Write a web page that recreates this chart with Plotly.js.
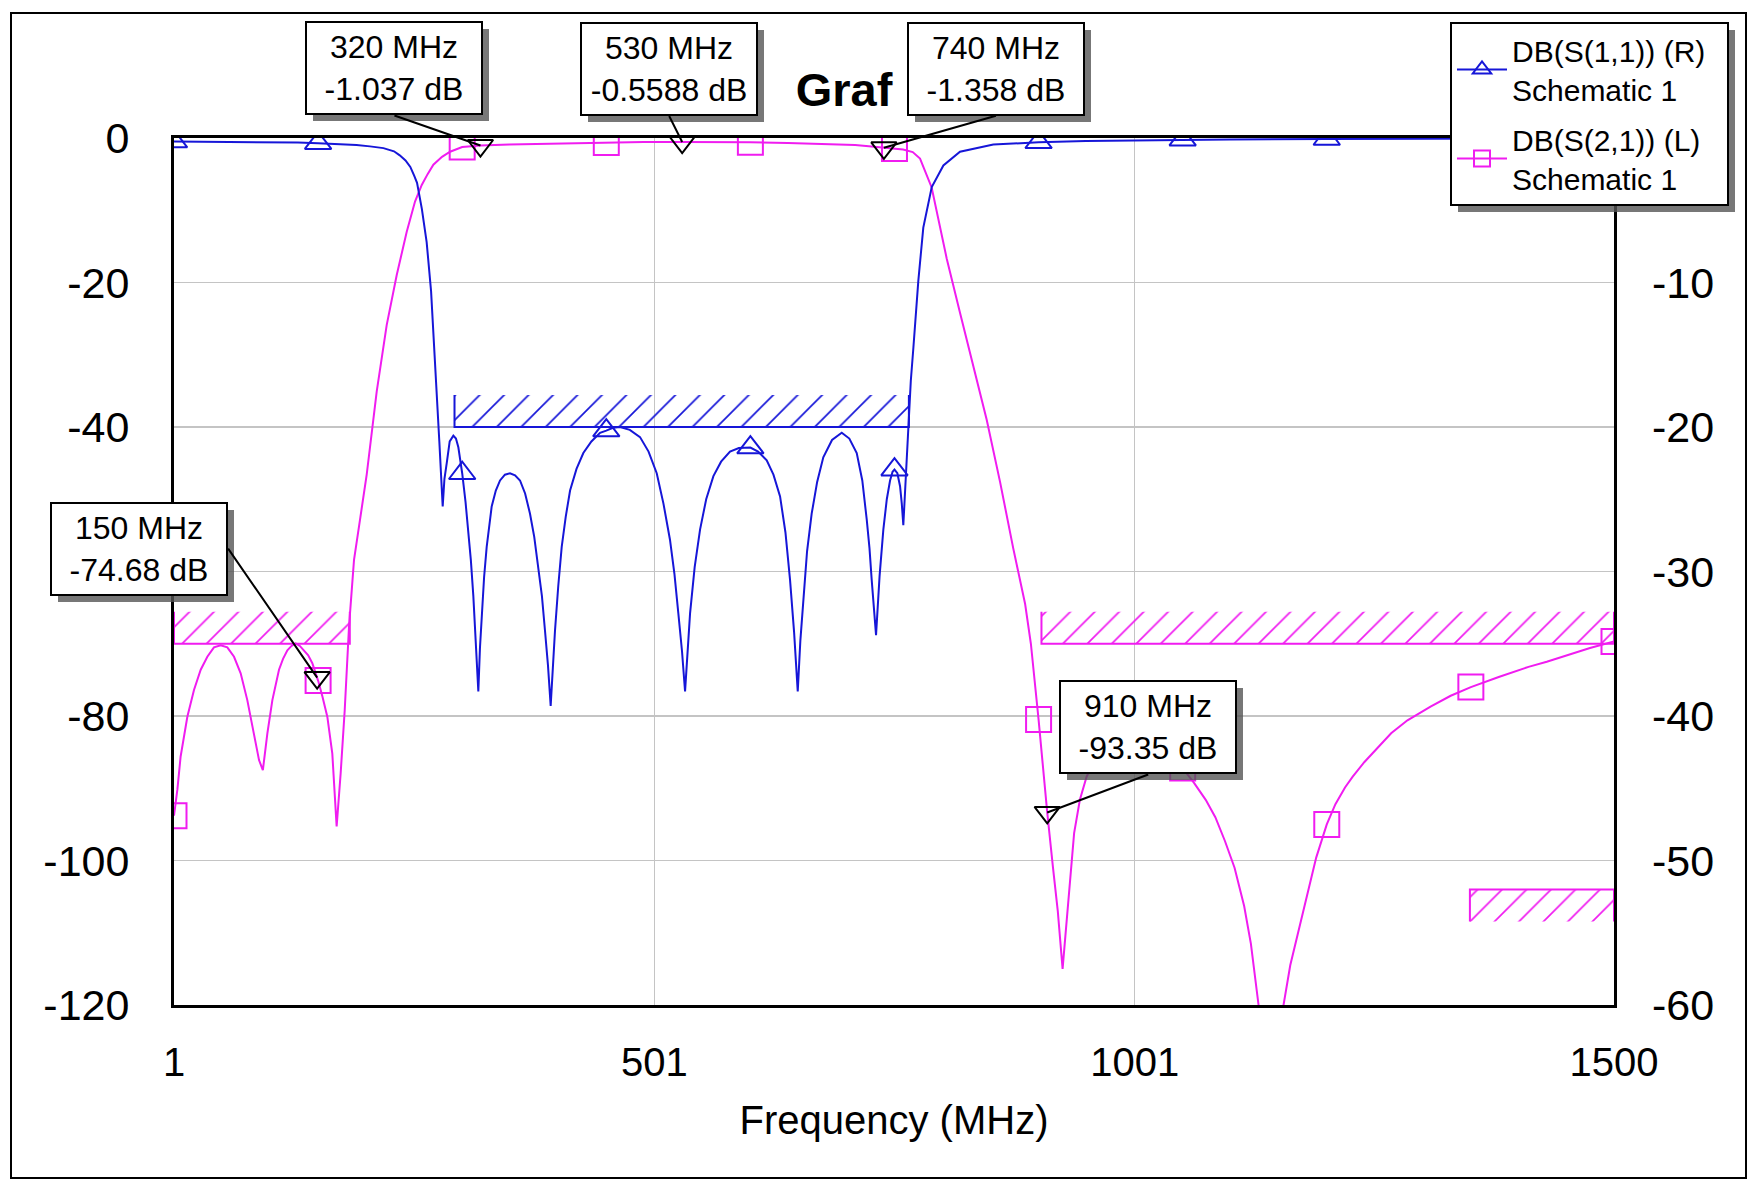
<!DOCTYPE html>
<html>
<head>
<meta charset="utf-8">
<script src="https://cdn.plot.ly/plotly-3.0.1.min.js"></script>
<style>
  html, body { margin: 0; padding: 0; background: #ffffff; }
  #chart { width: 1760px; height: 1194px; }
</style>
</head>
<body>
<div id="chart"></div>
<script>
// ---- Filter sweep: frequency in MHz, magnitude in dB ----
// DB(S(1,1)) return loss, plotted on the right axis
const s11Freq = [1, 50, 100, 130, 151, 175, 191, 205, 219, 230,
  236, 242, 247, 251, 254, 259, 264, 268.6, 271.7, 274.5,
  277.2, 280.7, 282.5, 284.9, 288, 291.8, 294.5, 297, 301, 304.5,
  307.4, 310, 312.6, 315.3, 317.8, 319.5, 321.3, 323.8, 326.5, 329,
  331.7, 336, 340.4, 345.5, 350.8, 356, 361.2, 366.5, 371.6, 376,
  380.3, 384, 387.2, 390.3, 393.1, 395.3, 397.6, 401, 404.6, 408.8,
  413.3, 420, 427.1, 435.5, 444.5, 451, 458, 465.3, 475.5, 486.1,
  495, 503.5, 510.5, 517.3, 522, 526, 529.8, 533, 535.5, 538.2,
  543, 548.6, 555, 562.5, 570.5, 579.8, 589, 598.9, 601, 609,
  618, 625, 631.9, 637.5, 642.3, 646.5, 650.3, 653, 656.2, 660,
  664.8, 670.5, 676.9, 686, 696.1, 704, 711.7, 717.5, 722.1, 725,
  727.3, 729.7, 731.8, 735.5, 739.4, 743, 746.4, 749, 751, 754,
  756.8, 758.6, 760.2, 763, 765.4, 768, 770.7, 775.8, 781, 789.8,
  801.9, 819.2, 853.9, 901, 950, 1000, 1051, 1100, 1201, 1300,
  1351, 1500];
const s11Db = [-0.25, -0.26, -0.29, -0.32, -0.36, -0.42, -0.48, -0.58, -0.7, -0.92,
  -1.2, -1.55, -2.0, -2.6, -3.1, -4.9, -7.2, -10.6, -14.1, -17.6,
  -21, -25.5, -23.6, -22.5, -21, -20.6, -20.8, -21.4, -23.2, -25.2,
  -27.1, -29.2, -31.7, -34.7, -38.3, -35.3, -32.9, -30.4, -28.3, -26.8,
  -25.5, -24.4, -23.7, -23.3, -23.2, -23.35, -23.7, -24.6, -26, -27.6,
  -29.7, -31.7, -34.1, -36.5, -39.3, -36.5, -34.1, -31, -28.3, -26.2,
  -24.4, -22.9, -21.8, -21, -20.4, -20.25, -20.05, -20, -20.2, -20.7,
  -21.7, -23.2, -25.3, -27.8, -30.2, -32.9, -35.5, -38.3, -35.3, -32.9,
  -29.7, -27.1, -25, -23.4, -22.4, -21.7, -21.45, -21.4, -21.42, -21.7,
  -22.3, -23.3, -24.8, -27.3, -30.6, -34.2, -38.3, -34.8, -31.7, -28.6,
  -26, -23.8, -22.1, -20.9, -20.4, -20.8, -21.8, -23.7, -26.4, -28.4,
  -30.6, -32.5, -34.4, -30.3, -27.1, -25, -23.7, -23.1, -22.95, -23.2,
  -24.1, -25.3, -26.8, -23.2, -20.1, -16.8, -14.5, -9.9, -6.2, -3.4,
  -1.9, -0.95, -0.45, -0.3, -0.2, -0.15, -0.12, -0.1, -0.07, -0.05,
  -0.04, -0.03];

// DB(S(2,1)) insertion loss, plotted on the left axis
const s21Freq = [1, 4.5, 7.9, 14.9, 21.8, 28.8, 35.7, 42.6, 49.6, 56.5,
  63.5, 70.4, 77.3, 84.3, 89.5, 93.5, 98.2, 103.4, 110.3, 114.5,
  119, 123.3, 127.7, 132, 136.3, 140.7, 145, 150, 151, 155.5,
  160.6, 165.8, 170.3, 174.5, 178.7, 183.2, 188.4, 195, 201.6, 212,
  222.4, 232.8, 243.2, 251.9, 258.9, 265, 271, 280, 288.4, 301,
  320, 350, 390, 420, 451, 490, 530, 565, 601, 640,
  680, 710, 730, 740, 751, 760, 770, 777.6, 789.7, 805.4,
  819.2, 833, 847, 860.9, 874.8, 887, 893, 901, 905, 910,
  916, 921, 926, 932, 938, 944, 951, 965, 980, 995,
  1010, 1025, 1040, 1051, 1063, 1075, 1085, 1095, 1105, 1115,
  1122, 1130, 1136, 1143, 1150, 1156, 1163, 1171, 1183, 1190,
  1201, 1210, 1220, 1228, 1240, 1255, 1268, 1285, 1309, 1330,
  1351, 1380, 1411, 1430, 1452, 1475, 1500];
const s21Db = [-93.8, -90.2, -85.6, -80.1, -76.4, -73.6, -71.8, -70.5, -70.2, -70.5,
  -71.8, -74.1, -77.8, -82.4, -86.1, -87.5, -82.4, -77.8, -73.6, -72.1,
  -70.9, -70.3, -69.95, -70.3, -70.9, -71.6, -72.7, -74.68, -75.1, -77.3,
  -80.1, -85.2, -95.3, -87.9, -79.2, -67.6, -58.4, -52.5, -46.6, -35.1,
  -25.9, -19, -13, -8.8, -6.5, -5, -3.7, -2.6, -1.9, -1.25,
  -1.037, -0.9, -0.78, -0.7, -0.62, -0.57, -0.5588, -0.56, -0.6, -0.68,
  -0.82, -0.98, -1.2, -1.358, -1.45, -1.6, -1.95, -2.84, -6.85, -16.7,
  -24.2, -31.6, -39, -47.6, -56.9, -64.5, -70, -80.5, -86.5, -93.35,
  -101, -107, -115, -105.5, -96.2, -91.6, -88.4, -84.6, -82.5, -81.6,
  -82, -83.4, -85.4, -87.2, -89.3, -91.6, -94, -97.3, -101, -106.3,
  -111.5, -120, -128, -138, -128, -120, -114.5, -110, -103.2, -99.6,
  -95, -92.2, -89.9, -88.4, -86.4, -84.3, -82.4, -80.6, -78.7, -77.2,
  -76, -74.6, -73.2, -72.5, -71.6, -70.6, -69.7];

// Trace symbols repeat every 150 MHz along each curve
const symbolFreq = [1, 151, 301, 451, 601, 751, 901, 1051, 1201, 1351, 1500];

// Measurement markers placed on DB(S(2,1))
const markerFreq = [150, 320, 530, 740, 910];

// Specification masks
const s11MaskStart = [293];
const s11MaskEnd = [766];
const s11MaskDb = [-20];
const s11MaskSide = ['above'];
const s21MaskStart = [1, 904, 1350];
const s21MaskEnd = [184, 1500, 1500];
const s21MaskDb = [-70, -70, -104];
const s21MaskSide = ['above', 'above', 'below'];

// Axis ticks
const xTicks = [1, 501, 1001, 1500];
const leftTicks = [0, -20, -40, -60, -80, -100, -120];
const rightTicks = [0, -10, -20, -30, -40, -50, -60];

// ---- Styling ----
const FONT = 'Liberation Sans, Arial, Helvetica, sans-serif';
const BLUE = '#1616d8';
const MAGENTA = '#f01cf0';
const SHADOW_COLOR = 'rgba(85,85,85,0.8)';
const W = 1760, H = 1194;
const M = { l: 174, r: 146, t: 138, b: 189 };
const PW = W - M.l - M.r, PH = H - M.t - M.b;
const LEFT_RANGE = [-120, 0], RIGHT_RANGE = [-60, 0];
const HATCH_DEPTH_PX = 32;

const px2x = px => (px - M.l) / PW;
const px2y = py => (H - M.b - py) / PH;
const lookup = (fs, vs, f) => vs[fs.indexOf(f)];

const traces = [];

// Hatched specification masks
function addMask(start, end, level, side, color, yaxis, span) {
  const depth = HATCH_DEPTH_PX * span / PH * (side === 'above' ? 1 : -1);
  traces.push({
    type: 'scatter', mode: 'lines', yaxis: yaxis,
    x: [start, start, end, end, start],
    y: [level, level + depth, level + depth, level, level],
    fill: 'toself', fillcolor: 'rgba(0,0,0,0)',
    fillpattern: { shape: '/', size: 17.3, solidity: 0.1, fgcolor: color, bgcolor: 'rgba(0,0,0,0)' },
    line: { width: 0 }, showlegend: false, hoverinfo: 'skip'
  });
  traces.push({
    type: 'scatter', mode: 'lines', yaxis: yaxis,
    x: [start, start, end, end],
    y: [level + depth, level, level, level + depth],
    line: { color: color, width: 2 }, showlegend: false, hoverinfo: 'skip'
  });
}
s21MaskStart.forEach((s, i) => addMask(s, s21MaskEnd[i], s21MaskDb[i], s21MaskSide[i], MAGENTA, 'y', LEFT_RANGE[1] - LEFT_RANGE[0]));
s11MaskStart.forEach((s, i) => addMask(s, s11MaskEnd[i], s11MaskDb[i], s11MaskSide[i], BLUE, 'y2', RIGHT_RANGE[1] - RIGHT_RANGE[0]));

// S21 curve with its square symbols
traces.push({
  type: 'scatter', mode: 'lines+markers', name: 'DB(S(2,1)) (L)<br>Schematic 1\u00a0\u00a0',
  legendgroup: 's21', legendrank: 2,
  x: s21Freq, y: s21Db, yaxis: 'y',
  line: { color: MAGENTA, width: 2 },
  marker: { symbol: 'square-open', size: 25, color: MAGENTA, line: { width: 2, color: MAGENTA } },
  selectedpoints: symbolFreq.map(f => s21Freq.indexOf(f)),
  selected: { marker: { opacity: 1 } },
  unselected: { marker: { opacity: 0 } },
  hoverinfo: 'x+y'
});

// Measurement markers
const markerDb = markerFreq.map(f => lookup(s21Freq, s21Db, f));
traces.push({
  type: 'scatter', mode: 'markers', x: markerFreq, y: markerDb, yaxis: 'y',
  marker: { symbol: 'triangle-down-open', size: 22, color: '#000', line: { width: 2, color: '#000' } },
  showlegend: false, hoverinfo: 'x+y'
});

// S11 curve with its triangle symbols
traces.push({
  type: 'scatter', mode: 'lines+markers', name: 'DB(S(1,1)) (R)\u00a0\u00a0<br>Schematic 1',
  legendgroup: 's11', legendrank: 1,
  x: s11Freq, y: s11Db, yaxis: 'y2',
  line: { color: BLUE, width: 2 },
  marker: { symbol: 'triangle-up-open', size: 23, color: BLUE, line: { width: 2, color: BLUE } },
  selectedpoints: symbolFreq.map(f => s11Freq.indexOf(f)),
  selected: { marker: { opacity: 1 } },
  unselected: { marker: { opacity: 0 } },
  hoverinfo: 'x+y'
});

// Marker readout boxes: pixel offset of the box from the marker, and which side of the box the leader leaves from
const calloutPlacement = {
  150: { ax: -89, ay: -129, xanchor: 'right', yanchor: 'middle' },
  320: { ax: -86, ay: -30, xanchor: 'center', yanchor: 'bottom' },
  530: { ax: -13, ay: -26, xanchor: 'center', yanchor: 'bottom' },
  740: { ax: 112, ay: -32, xanchor: 'center', yanchor: 'bottom' },
  910: { ax: 101, ay: -38, xanchor: 'center', yanchor: 'bottom' }
};
const BOX_W = 166, BOX_H = 82, SHADOW = 7;
const annotations = [];
markerFreq.forEach((f, i) => {
  const p = calloutPlacement[f];
  const common = {
    x: f, y: markerDb[i], xref: 'x', yref: 'y',
    ax: p.ax, ay: p.ay, axref: 'pixel', ayref: 'pixel',
    xanchor: p.xanchor, yanchor: p.yanchor,
    showarrow: true, arrowhead: 0, standoff: 0,
    width: BOX_W, height: BOX_H, borderpad: 4, borderwidth: 2,
    font: { family: FONT, size: 32, color: '#000' }, align: 'center', valign: 'middle'
  };
  // drop shadow
  annotations.push(Object.assign({}, common, {
    text: ' ', xshift: SHADOW, yshift: -SHADOW,
    bgcolor: SHADOW_COLOR, bordercolor: 'rgba(0,0,0,0)',
    arrowcolor: 'rgba(0,0,0,0)', arrowwidth: 0.1
  }));
  annotations.push(Object.assign({}, common, {
    text: f + ' MHz<br>' + markerDb[i] + ' dB',
    bgcolor: '#ffffff', bordercolor: '#000000',
    arrowcolor: '#000000', arrowwidth: 2
  }));
});

const shapes = [
  // outer frame
  { type: 'rect', xref: 'paper', yref: 'paper', layer: 'above',
    x0: px2x(11), x1: px2x(1746), y0: px2y(1178), y1: px2y(13),
    line: { color: '#000', width: 2 } },
  // legend drop shadow (re-fitted to the drawn legend below)
  { type: 'rect', xref: 'paper', yref: 'paper', layer: 'above',
    x0: px2x(1457), x1: px2x(1735), y0: px2y(211), y1: px2y(29),
    fillcolor: SHADOW_COLOR, line: { width: 0 } }
];

const layout = {
  width: W, height: H,
  margin: M,
  paper_bgcolor: '#ffffff', plot_bgcolor: '#ffffff',
  font: { family: FONT, color: '#000' },
  title: { text: '<b>Graf</b>', font: { family: FONT, size: 47, color: '#000' },
    x: px2x(844), xref: 'paper', xanchor: 'center', y: 1 - 90 / H, yref: 'container', yanchor: 'middle' },
  showlegend: true,
  legend: {
    x: px2x(1450), y: px2y(22), xanchor: 'left', yanchor: 'top',
    bgcolor: '#ffffff', bordercolor: '#000', borderwidth: 2,
    font: { family: FONT, size: 30, color: '#000' },
    traceorder: 'grouped', tracegroupgap: 8, itemwidth: 50
  },
  xaxis: {
    range: [1, 1500], tickvals: xTicks, ticktext: xTicks.map(String),
    showline: true, linecolor: '#000', linewidth: 3, mirror: true,
    showgrid: true, gridcolor: '#c4c4c4', gridwidth: 1.5, zeroline: false,
    ticks: '', tickfont: { family: FONT, size: 40, color: '#000' }, ticklabelstandoff: 20,
    title: { text: 'Frequency (MHz)', font: { family: FONT, size: 40, color: '#000' }, standoff: 23 }
  },
  yaxis: {
    range: LEFT_RANGE, tickvals: leftTicks, ticktext: leftTicks.map(String),
    showline: true, linecolor: '#000', linewidth: 3, mirror: true,
    showgrid: true, gridcolor: '#c4c4c4', gridwidth: 1.5, zeroline: false,
    ticks: '', tickfont: { family: FONT, size: 43, color: '#000' }, ticklabelstandoff: 33
  },
  yaxis2: {
    range: RIGHT_RANGE, tickvals: rightTicks, ticktext: rightTicks.map(String),
    overlaying: 'y', side: 'right', showline: false, showgrid: false, zeroline: false,
    ticks: '', tickfont: { family: FONT, size: 43, color: '#000' }, ticklabelstandoff: 37
  },
  annotations: annotations,
  shapes: shapes
};

Plotly.newPlot('chart', traces, layout, { displayModeBar: false, staticPlot: true }).then(gd => {
  // fit the legend shadow to the legend box that was actually drawn
  const bg = gd.querySelector('.legend .bg');
  if (!bg) return;
  const r = bg.getBoundingClientRect();
  const host = gd.getBoundingClientRect();
  const l = r.left - host.left, t = r.top - host.top;
  return Plotly.relayout(gd, {
    'shapes[1].x0': px2x(l + SHADOW), 'shapes[1].x1': px2x(l + r.width + SHADOW),
    'shapes[1].y0': px2y(t + r.height + SHADOW), 'shapes[1].y1': px2y(t + SHADOW)
  });
});
</script>
</body>
</html>
